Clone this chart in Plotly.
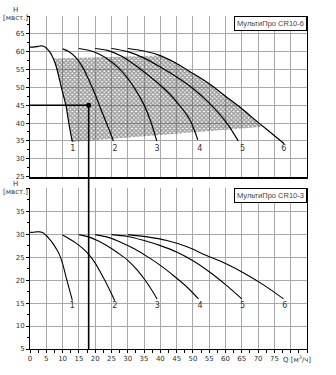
import plotly.graph_objects as go

# ---------------- data ----------------
# Upper panel: МультиПро CR10-6, curves for 1..6 pumps in parallel (Q [м³/ч], H [м])
top_q = [
    [0, 1, 2, 3, 3.8, 4.5, 5, 6, 7, 8, 9, 10, 11, 12, 13],
    [10, 12, 14, 16, 18, 20, 22, 24, 25.6],
    [15, 18, 21, 24, 27, 30, 33, 35, 37, 38.9],
    [20, 24, 28, 32, 36, 40, 43, 46, 49, 51.5],
    [25, 30, 35, 40, 45, 50, 55, 60, 63.9],
    [30, 35, 40, 45, 50, 55, 60, 65, 70, 74, 78],
]
top_h = [
    [61.3, 61.3, 61.4, 61.6, 61.6, 61.4, 61.0, 60.0, 58.4, 56.0, 52.4, 48.6, 45.0, 39.5, 34.7],
    [60.8, 60.0, 58.4, 55.9, 52.2, 48.0, 43.3, 38.8, 35.0],
    [60.9, 60.4, 59.4, 57.8, 55.6, 52.5, 48.4, 45.1, 40.6, 35.0],
    [60.9, 60.3, 58.8, 56.4, 53.6, 50.6, 48.0, 44.8, 41.0, 35.3],
    [60.9, 60.0, 58.2, 55.7, 52.9, 49.7, 45.6, 40.5, 35.0],
    [60.9, 60.2, 58.9, 56.7, 53.9, 51.0, 47.5, 44.0, 40.2, 37.2, 34.2],
]

# Operating area (hatched) outline
area_q = [7.3, 40, 45, 50, 55, 60, 65, 70, 71.5, 13.0, 12, 11, 10, 9, 8, 7.3]
area_h = [58.1, 58.9, 56.7, 53.9, 51.0, 47.5, 44.0, 40.2, 39.0, 34.7, 39.5, 45.0, 48.6, 52.4, 56.0, 58.1]

# Lower panel: МультиПро CR10-3
bot_q = [
    [0, 1, 2, 3, 4, 5, 6, 7, 8, 9, 10, 11, 12, 13],
    [10, 12, 14, 16, 18, 20, 22, 24, 26],
    [15, 18, 21, 24, 27, 30, 33, 36, 39],
    [20, 24, 28, 32, 36, 40, 44, 48, 51.7],
    [25, 30, 35, 40, 45, 50, 55, 60, 65],
    [30, 36, 42, 48, 54, 60, 66, 72, 77.8],
]
bot_h = [
    [30.4, 30.4, 30.5, 30.5, 30.3, 29.7, 28.9, 28.0, 26.9, 25.6, 23.6, 20.8, 18.2, 15.6],
    [29.8, 29.0, 28.1, 27.0, 25.6, 23.7, 21.2, 18.5, 15.5],
    [29.9, 29.4, 28.5, 27.3, 25.9, 24.3, 22.1, 19.3, 15.9],
    [29.9, 29.3, 28.2, 26.8, 25.1, 23.2, 21.0, 18.6, 15.9],
    [29.9, 29.5, 28.6, 27.5, 26.1, 24.2, 21.8, 19.0, 15.9],
    [29.9, 29.4, 28.6, 27.3, 25.4, 23.6, 21.4, 18.8, 15.9],
]

curve_names = ["1", "2", "3", "4", "5", "6"]
top_label_q = [13.1, 26.1, 39.0, 52.1, 65.2, 77.9]
top_label_h = 32.6
bot_label_q = [13.0, 26.0, 39.1, 52.2, 65.2, 78.2]
bot_label_h = 14.3

# Duty point
duty_q = 18
duty_h = 45

x_range = [0, 85]
top_range = [25, 70]
bot_range = [5, 40]
x_tick_vals = list(range(0, 90, 5))
x_tick_text = [str(v) if v <= 75 else " " for v in x_tick_vals]
top_tick_vals = list(range(25, 70, 5))
bot_tick_vals = list(range(5, 45, 5))
bot_tick_text = [str(v) if v < 40 else " " for v in bot_tick_vals]

# ---------------- figure ----------------
top_dom = [0.5177, 1.0]
bot_dom = [0.0, 0.4829]

FONT = "DejaVu Sans"
TXT = "#333333"
GRID = "#a9a9a9"

fig = go.Figure()

fig.add_trace(go.Scatter(
    x=area_q, y=area_h, xaxis="x", yaxis="y", mode="lines",
    line=dict(width=0), fill="toself", fillcolor="rgba(0,0,0,0)",
    fillpattern=dict(shape="x", size=3, solidity=0.7, fgcolor="#3a3a3a",
                     bgcolor="rgba(255,255,255,0)"),
    hoverinfo="skip", showlegend=False))

for qs, hs in zip(top_q, top_h):
    fig.add_trace(go.Scatter(x=qs, y=hs, xaxis="x", yaxis="y", mode="lines",
                             line=dict(color="black", width=1.2, shape="spline"),
                             showlegend=False))
for qs, hs in zip(bot_q, bot_h):
    fig.add_trace(go.Scatter(x=qs, y=hs, xaxis="x2", yaxis="y2", mode="lines",
                             line=dict(color="black", width=1.1, shape="spline"),
                             showlegend=False))

fig.add_trace(go.Scatter(x=top_label_q, y=[top_label_h] * 6, xaxis="x", yaxis="y",
                         mode="text", text=curve_names,
                         textfont=dict(family=FONT, size=8, color=TXT), showlegend=False))
fig.add_trace(go.Scatter(x=bot_label_q, y=[bot_label_h] * 6, xaxis="x2", yaxis="y2",
                         mode="text", text=curve_names,
                         textfont=dict(family=FONT, size=8, color=TXT), showlegend=False))

# horizontal reading line and duty point
fig.add_trace(go.Scatter(x=[0, duty_q], y=[duty_h, duty_h], xaxis="x", yaxis="y",
                         mode="lines", line=dict(color="black", width=1.5), showlegend=False))
fig.add_trace(go.Scatter(x=[duty_q], y=[duty_h], xaxis="x", yaxis="y", mode="markers",
                         marker=dict(color="black", size=5), showlegend=False))

# vertical reading line through both panels
duty_paper_y = top_dom[0] + (duty_h - top_range[0]) / (top_range[1] - top_range[0]) * (top_dom[1] - top_dom[0])
fig.add_shape(type="line", xref="x", yref="paper", x0=duty_q, x1=duty_q,
              y0=0, y1=duty_paper_y, line=dict(color="black", width=1.6))

axis_common = dict(showgrid=True, gridcolor=GRID, gridwidth=1, zeroline=False,
                   tickfont=dict(family=FONT, size=7, color=TXT))

fig.update_layout(
    width=336, height=375,
    margin=dict(l=30, r=29, t=13, b=23),
    paper_bgcolor="white", plot_bgcolor="white",
    xaxis=dict(domain=[0, 1], range=x_range, anchor="y", tickmode="array",
               tickvals=x_tick_vals, showticklabels=False, ticks="",
               showline=True, linecolor="black", linewidth=2, **axis_common),
    yaxis=dict(domain=top_dom, range=top_range, anchor="x", tickmode="array",
               tickvals=top_tick_vals, ticks="outside", ticklen=3, tickcolor="black",
               minor=dict(dtick=2.5, tick0=25, ticks="outside", ticklen=2,
                          tickcolor="black", showgrid=False),
               showline=True, linecolor="black", linewidth=1, mirror=True, **axis_common),
    xaxis2=dict(domain=[0, 1], range=x_range, anchor="y2", tickmode="array",
                tickvals=x_tick_vals, ticktext=x_tick_text, ticks="outside", ticklen=3,
                tickcolor="black",
                minor=dict(dtick=2.5, tick0=0, ticks="outside", ticklen=3,
                           tickcolor="black", showgrid=False),
                showline=True, linecolor="black", linewidth=1, **axis_common),
    yaxis2=dict(domain=bot_dom, range=bot_range, anchor="x2", tickmode="array",
                tickvals=bot_tick_vals, ticktext=bot_tick_text, ticks="outside",
                ticklen=3, tickcolor="black",
                minor=dict(dtick=2.5, tick0=5, ticks="outside", ticklen=2,
                           tickcolor="black", showgrid=False),
                showline=True, linecolor="black", linewidth=1, mirror=True, **axis_common),
)

box_font = dict(family="Liberation Sans", size=7.5, color="#444444")
fig.add_annotation(text="МультиПро CR10-6", xref="paper", yref="paper", x=1, y=top_dom[1],
                   xanchor="right", yanchor="top", showarrow=False, font=box_font,
                   bordercolor="black", borderwidth=1, borderpad=2, bgcolor="white")
fig.add_annotation(text="МультиПро CR10-3", xref="paper", yref="paper", x=1, y=bot_dom[1],
                   xanchor="right", yanchor="top", showarrow=False, font=box_font,
                   bordercolor="black", borderwidth=1, borderpad=2, bgcolor="white")

# axis titles
lab_font = dict(family=FONT, size=7, color=TXT)
for y_h, y_u in [(1.0192, 0.9941), (0.4945, 0.4705)]:
    fig.add_annotation(text="H", xref="paper", yref="paper", x=-0.054, y=y_h,
                       showarrow=False, font=lab_font, xanchor="center", yanchor="middle")
    fig.add_annotation(text="[мвст.]", xref="paper", yref="paper", x=-0.054, y=y_u,
                       showarrow=False, font=lab_font, xanchor="center", yanchor="middle")

fig.add_annotation(text="Q [м<sup>3</sup>/ч]", xref="x2", yref="paper", x=77.0, y=-0.03,
                   xanchor="left", yanchor="middle", showarrow=False, font=lab_font)

fig.write_html("out.html")
